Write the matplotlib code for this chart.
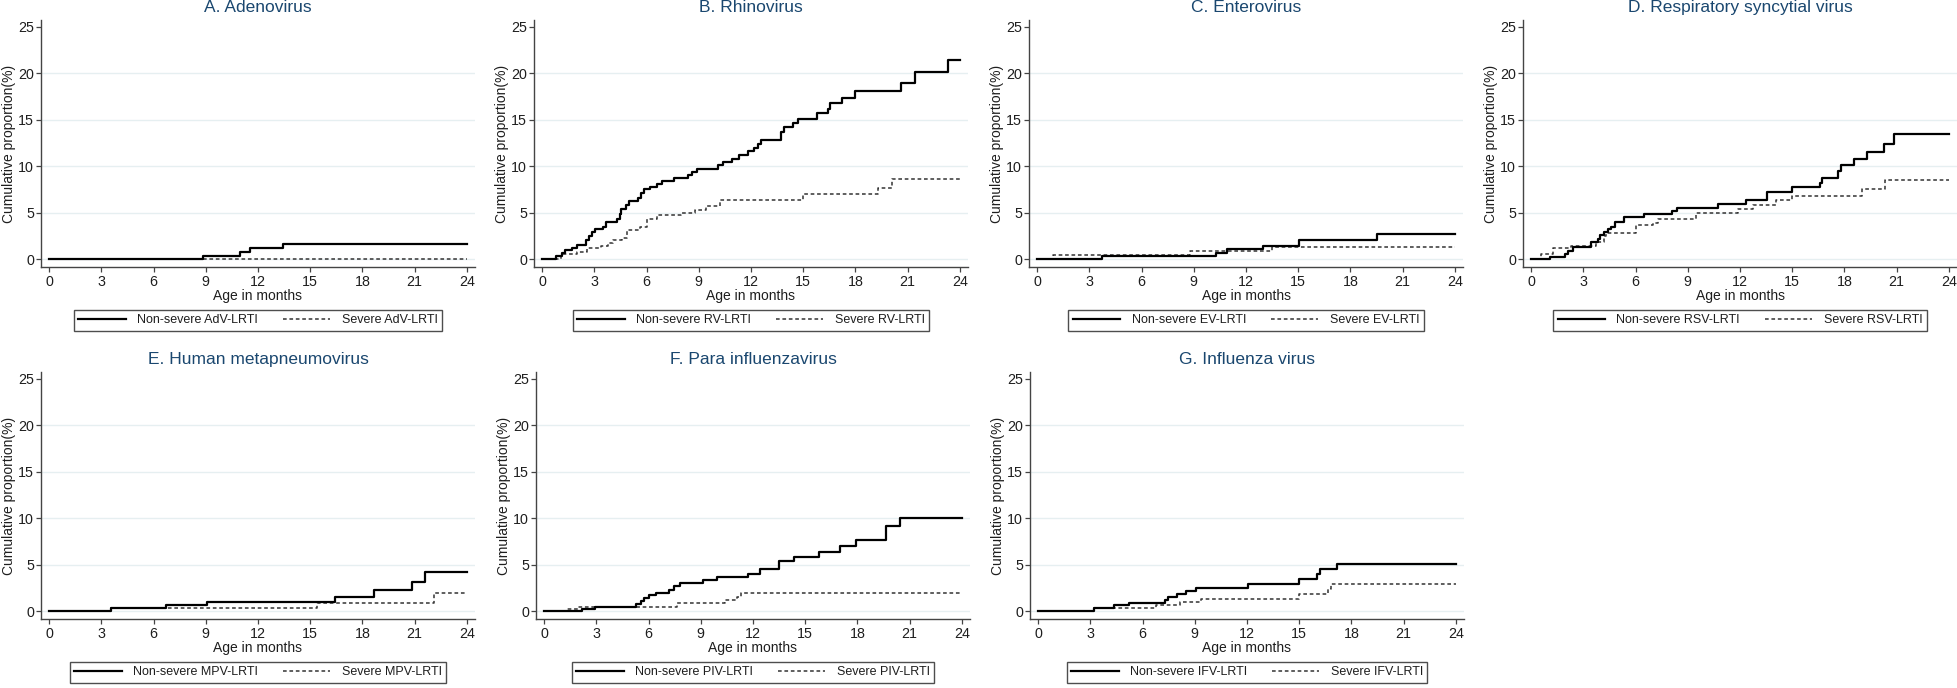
import matplotlib
matplotlib.use("Agg")
import matplotlib.pyplot as plt
from matplotlib.lines import Line2D

plt.rcParams['font.family'] = ['Liberation Sans', 'DejaVu Sans']

# ---- data: step times (months) and cumulative proportion (%) ----
titles = ["A. Adenovirus", "B. Rhinovirus", "C. Enterovirus",
          "D. Respiratory syncytial virus", "E. Human metapneumovirus",
          "F. Para influenzavirus", "G. Influenza virus"]
abbrevs = ["AdV", "RV", "EV", "RSV", "MPV", "PIV", "IFV"]

adv_t_ns = [0, 8.87, 10.94, 11.55, 13.43, 24]
adv_p_ns = [0, 0.35, 0.75, 1.15, 1.58, 1.58]
adv_t_sv = [0, 24]
adv_p_sv = [0, 0]

rv_t_ns = [0, 0.8, 1.15, 1.3, 1.7, 2.0, 2.55, 2.7, 2.85, 3.05, 3.5, 3.7, 4.3, 4.45,
           4.55, 4.8, 5.0, 5.5, 5.7, 5.85, 6.2, 6.6, 6.9, 7.6, 8.4, 8.6, 8.9, 10.1,
           10.4, 10.9, 11.3, 11.8, 12.2, 12.4, 12.6, 13.7, 13.9, 14.4, 14.7, 15.8,
           16.4, 16.55, 17.2, 17.95, 20.6, 21.4, 23.3, 24]
rv_p_ns = [0, 0.3, 0.6, 1.0, 1.2, 1.5, 2.1, 2.5, 2.9, 3.2, 3.5, 4.0, 4.3, 4.9,
           5.4, 5.8, 6.3, 6.6, 7.1, 7.5, 7.8, 8.1, 8.4, 8.7, 9.1, 9.4, 9.7, 10.1,
           10.4, 10.8, 11.2, 11.6, 12.0, 12.4, 12.8, 13.7, 14.2, 14.6, 15.1, 15.7,
           16.2, 16.8, 17.4, 18.1, 19.0, 20.1, 21.4, 21.4]
rv_t_sv = [0, 1.1, 2.0, 2.6, 3.4, 3.8, 4.1, 4.6, 4.9, 5.6, 6.0, 6.6, 8.0, 8.8,
           9.4, 10.2, 15.0, 19.3, 20.1, 24]
rv_p_sv = [0, 0.5, 0.75, 1.2, 1.4, 1.7, 2.0, 2.3, 3.1, 3.5, 4.3, 4.7, 5.0, 5.3,
           5.7, 6.4, 7.0, 7.7, 8.6, 8.6]

ev_t_ns = [0, 3.75, 10.26, 10.9, 13.0, 15.06, 19.5, 24]
ev_p_ns = [0, 0.29, 0.65, 1.05, 1.43, 2.04, 2.69, 2.69]
ev_t_sv = [0, 0.9, 8.8, 13.5, 24]
ev_p_sv = [0, 0.47, 0.82, 1.26, 1.26]

rsv_t_ns = [0, 1.11, 1.95, 2.1, 2.39, 3.44, 3.82, 3.98, 4.2, 4.4, 4.59, 4.82, 5.32,
            6.46, 8.09, 8.36, 10.71, 12.34, 13.54, 15.0, 16.58, 16.73, 17.6, 17.79,
            18.55, 19.32, 20.27, 20.85, 24]
rsv_p_ns = [0, 0.21, 0.5, 0.9, 1.25, 1.79, 2.2, 2.61, 2.9, 3.2, 3.5, 4.0, 4.58,
            4.9, 5.2, 5.5, 5.9, 6.34, 7.23, 7.74, 8.2, 8.78, 9.5, 10.1,
            10.8, 11.53, 12.43, 13.43, 13.43]
rsv_t_sv = [0, 0.57, 1.24, 2.3, 3.73, 4.2, 4.3, 6.02, 6.98, 7.27, 9.47, 11.91,
            12.72, 14.06, 15.0, 19.03, 20.33, 24]
rsv_p_sv = [0, 0.5, 1.18, 1.43, 1.79, 2.5, 2.79, 3.65, 3.9, 4.3, 5.01, 5.4,
            5.84, 6.38, 6.8, 7.52, 8.49, 8.49]

mpv_t_ns = [0, 3.56, 6.7, 9.06, 16.4, 18.64, 20.84, 21.57, 24]
mpv_p_ns = [0, 0.32, 0.61, 0.93, 1.54, 2.22, 3.15, 4.23, 4.23]
mpv_t_sv = [0, 3.56, 15.38, 22.09, 24]
mpv_p_sv = [0, 0.32, 0.82, 1.93, 1.93]

piv_t_ns = [0, 2.2, 2.93, 5.27, 5.56, 5.75, 6.0, 6.42, 7.2, 7.49, 7.82, 9.15, 9.92,
            11.69, 12.38, 13.47, 14.37, 15.77, 17.01, 17.91, 19.63, 20.42, 24]
piv_p_ns = [0, 0.18, 0.47, 0.75, 1.1, 1.4, 1.69, 1.97, 2.3, 2.69, 2.98, 3.3, 3.66,
            4.02, 4.52, 5.38, 5.81, 6.38, 6.99, 7.64, 9.15, 9.97, 9.97]
piv_t_sv = [0, 1.34, 1.97, 7.62, 10.4, 11.07, 11.3, 24]
piv_p_sv = [0, 0.2, 0.47, 0.82, 1.2, 1.5, 1.94, 1.94]

ifv_t_ns = [0, 3.19, 4.34, 5.22, 7.27, 7.46, 7.99, 8.51, 9.05, 12.07, 15.01, 16.03,
            16.22, 17.17, 24]
ifv_p_ns = [0, 0.32, 0.61, 0.9, 1.2, 1.5, 1.83, 2.19, 2.51, 2.94, 3.44, 4.02,
            4.52, 5.09, 5.09]
ifv_t_sv = [0, 3.19, 6.75, 8.13, 9.37, 15.01, 16.64, 16.83, 24]
ifv_p_sv = [0, 0.32, 0.61, 0.93, 1.29, 1.79, 2.4, 2.94, 2.94]

series = [
    (adv_t_ns, adv_p_ns, adv_t_sv, adv_p_sv),
    (rv_t_ns, rv_p_ns, rv_t_sv, rv_p_sv),
    (ev_t_ns, ev_p_ns, ev_t_sv, ev_p_sv),
    (rsv_t_ns, rsv_p_ns, rsv_t_sv, rsv_p_sv),
    (mpv_t_ns, mpv_p_ns, mpv_t_sv, mpv_p_sv),
    (piv_t_ns, piv_p_ns, piv_t_sv, piv_p_sv),
    (ifv_t_ns, ifv_p_ns, ifv_t_sv, ifv_p_sv),
]

x_ticks = [0, 3, 6, 9, 12, 15, 18, 21, 24]
y_ticks = [0, 5, 10, 15, 20, 25]

# ---- layout (pixels) ----
W, H = 1958, 688
lefts = [[41, 534, 1029, 1523], [41, 536, 1030]]
tops = [20, 372]
ax_w, ax_h = 434, 247

title_color = '#1a476f'
grid_color = '#e6eff1'
text_color = '#1e1e1e'
dash = (2.4, 1.8)

fig = plt.figure(figsize=(W / 100, H / 100), dpi=100)
fig.patch.set_facecolor('white')

k = 0
for row in range(2):
    for left in lefts[row]:
        t_ns, p_ns, t_sv, p_sv = series[k]
        ax = fig.add_axes([left / W, 1 - (tops[row] + ax_h) / H, ax_w / W, ax_h / H])
        ax.set_xlim(-0.46, 24.46)
        ax.set_ylim(-0.86, 25.75)

        for g in [0, 5, 10, 15, 20]:
            ax.axhline(g, color=grid_color, lw=1.0, zorder=0)

        ax.step(t_sv, p_sv, where='post', color='#333333', lw=1.1,
                dashes=dash, zorder=2)
        ax.step(t_ns, p_ns, where='post', color='black', lw=1.6, zorder=3)

        ax.set_xticks(x_ticks)
        ax.set_yticks(y_ticks)
        ax.tick_params(axis='both', direction='out', length=3.6, width=0.9,
                       labelsize=10.3, colors=text_color, color='#444444')
        ax.tick_params(axis='x', pad=2.4)
        ax.tick_params(axis='y', pad=1.5)
        for s in ['top', 'right']:
            ax.spines[s].set_visible(False)
        for s in ['left', 'bottom']:
            ax.spines[s].set_color('#444444')
            ax.spines[s].set_linewidth(1.0)

        ax.set_xlabel("Age in months", fontsize=10, color=text_color)
        ax.xaxis.set_label_coords(0.5, -0.09)
        ax.set_ylabel("Cumulative proportion(%)", fontsize=10, color=text_color)
        ax.yaxis.set_label_coords(-0.058, 0.5)
        ax.set_title(titles[k], fontsize=12.5, color=title_color, pad=6)

        handles = [Line2D([], [], color='black', lw=1.6),
                   Line2D([], [], color='#333333', lw=1.1, dashes=dash)]
        labels = ["Non-severe %s-LRTI" % abbrevs[k], "Severe %s-LRTI" % abbrevs[k]]
        leg = ax.legend(handles, labels, ncol=2, loc='upper center',
                        bbox_to_anchor=(0.5, -0.174), borderaxespad=0,
                        frameon=True, fancybox=False,
                        fontsize=9, handlelength=3.8, handletextpad=0.9,
                        columnspacing=2.0, borderpad=0.35, labelcolor=text_color)
        leg.get_frame().set_edgecolor('#222222')
        leg.get_frame().set_linewidth(1.0)
        k += 1

fig.savefig("out.png", dpi=100, facecolor='white')
